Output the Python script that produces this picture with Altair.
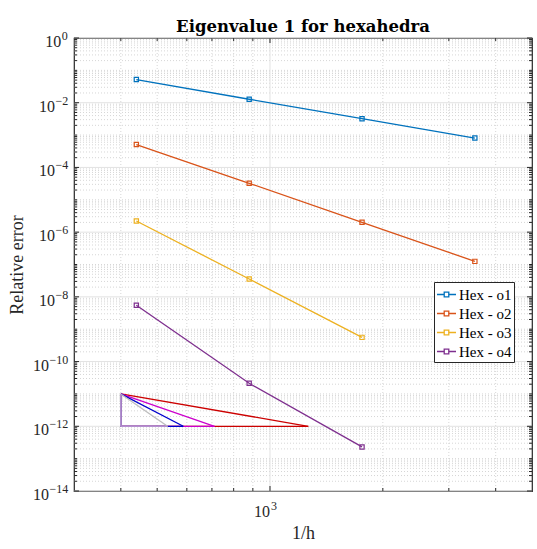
import altair as alt
import pandas as pd

# ---------------- data ----------------
series_names = ["Hex - o1", "Hex - o2", "Hex - o3", "Hex - o4"]
series_colors = ["#0072BD", "#D95319", "#EDB120", "#7E2F8E"]

inv_h_o1 = [440, 880, 1760, 3520]
err_o1 = [5.2e-2, 1.28e-2, 3.2e-3, 8.1e-4]
inv_h_o2 = [440, 880, 1760, 3520]
err_o2 = [5.1e-4, 3.24e-5, 2.02e-6, 1.25e-7]
inv_h_o3 = [440, 880, 1760]
err_o3 = [2.21e-6, 3.57e-8, 5.6e-10]
inv_h_o4 = [440, 880, 1760]
err_o4 = [5.5e-9, 2.13e-11, 2.3e-13]

# slope triangles (orders 2, 4, 6, 8)
tri_orders = ["2", "4", "6", "8"]
tri_x_left = 400
tri_x_right = [1265, 711, 587, 533]
tri_y_top = 1e-11
tri_y_bottom = 1e-12
tri_colors = ["#cc0000", "#cc00cc", "#0000cc", "#bdbdbd"]
tri_leg_color = "#b48fd0"

# axes
x_domain = [300, 5000]
y_domain = [1e-14, 1]
x_major = [1000]
x_minor = [400, 500, 600, 700, 800, 900, 2000, 3000, 4000]
x_label_exp = ["3"]
y_major_exp = [0, -2, -4, -6, -8, -10, -12, -14]
y_label_exp = ["0", "\u22122", "\u22124", "\u22126", "\u22128", "\u221210", "\u221212", "\u221214"]
y_odd_exp = [-1, -3, -5, -7, -9, -11, -13]
y_mantissas = [2, 3, 4, 5, 6, 7, 8, 9]

W, H = 458, 453
AXC = "#262626"
SERIF = "Liberation Serif"

y_major = [10.0 ** e for e in y_major_exp]
y_minor = [10.0 ** e for e in y_odd_exp] + [
    m * 10.0 ** k for k in range(-14, 0) for m in y_mantissas
]

xs = alt.Scale(type="log", domain=x_domain, nice=False)
ys = alt.Scale(type="log", domain=y_domain, nice=False)

# ---------------- grid ----------------
def vgrid(vals, color, dash):
    return alt.Chart(pd.DataFrame({"v": vals})).mark_rule(
        color=color, strokeWidth=1, strokeDash=dash
    ).encode(x=alt.X("v:Q", scale=xs), y=alt.value(0), y2=alt.value(H))

def hgrid(vals, color, dash):
    return alt.Chart(pd.DataFrame({"v": vals})).mark_rule(
        color=color, strokeWidth=1, strokeDash=dash
    ).encode(y=alt.Y("v:Q", scale=ys), x=alt.value(0), x2=alt.value(W))

grid_layers = [
    vgrid(x_minor, "#d6d6d6", [1, 2]),
    hgrid(y_minor, "#d6d6d6", [1, 2]),
    vgrid(x_major, "#e2e2e2", [1, 0]),
    hgrid(y_major, "#e2e2e2", [1, 0]),
]

# ---------------- ticks (inward, all four sides) ----------------
def xticks(vals, length):
    base = alt.Chart(pd.DataFrame({"v": vals})).mark_rule(color=AXC, strokeWidth=1)
    enc_x = alt.X("v:Q", scale=xs)
    return [
        base.encode(x=enc_x, y=alt.value(H), y2=alt.value(H - length)),
        base.encode(x=enc_x, y=alt.value(0), y2=alt.value(length)),
    ]

def yticks(vals, length):
    base = alt.Chart(pd.DataFrame({"v": vals})).mark_rule(color=AXC, strokeWidth=1)
    enc_y = alt.Y("v:Q", scale=ys)
    return [
        base.encode(y=enc_y, x=alt.value(0), x2=alt.value(length)),
        base.encode(y=enc_y, x=alt.value(W), x2=alt.value(W - length)),
    ]

tick_layers = (
    xticks(x_minor, 3)
    + xticks(x_major, 5)
    + yticks(y_minor, 3)
    + yticks(y_major, 5)
)

# ---------------- slope triangles ----------------
tri_layers = []
for xr, col in zip(tri_x_right, tri_colors):
    seg = pd.DataFrame({
        "x": [tri_x_left, tri_x_left, tri_x_left],
        "y": [tri_y_top, tri_y_bottom, tri_y_bottom],
        "x2": [xr, xr, tri_x_left],
        "y2": [tri_y_bottom, tri_y_bottom, tri_y_top],
    })
    tri_layers.append(
        alt.Chart(seg).mark_rule(color=col, strokeWidth=1.3).encode(
            x=alt.X("x:Q", scale=xs), x2="x2:Q",
            y=alt.Y("y:Q", scale=ys), y2="y2:Q",
        )
    )
leg = pd.DataFrame({
    "x": [tri_x_left, tri_x_left],
    "y": [tri_y_bottom, tri_y_bottom],
    "x2": [tri_x_right[-1], tri_x_left],
    "y2": [tri_y_bottom, tri_y_top],
})
tri_layers.append(
    alt.Chart(leg).mark_rule(color=tri_leg_color, strokeWidth=1.3).encode(
        x=alt.X("x:Q", scale=xs), x2="x2:Q",
        y=alt.Y("y:Q", scale=ys), y2="y2:Q",
    )
)

# ---------------- series ----------------
frames = []
for name, xv, ev in zip(
    series_names,
    [inv_h_o1, inv_h_o2, inv_h_o3, inv_h_o4],
    [err_o1, err_o2, err_o3, err_o4],
):
    frames.append(pd.DataFrame({"series": name, "inv_h": xv, "err": ev}))
series_df = pd.concat(frames, ignore_index=True)

legend_symbol = "M-1,0L-0.24,0M0.24,0L1,0M-0.24,-0.24L0.24,-0.24L0.24,0.24L-0.24,0.24Z"

lines = alt.Chart(series_df).mark_line(
    strokeWidth=1.3,
    point=alt.OverlayMarkDef(shape="square", filled=False, size=18, strokeWidth=1.2),
).encode(
    x=alt.X("inv_h:Q", scale=xs, title="1/h"),
    y=alt.Y("err:Q", scale=ys, title="Relative error"),
    color=alt.Color(
        "series:N",
        scale=alt.Scale(domain=series_names, range=series_colors),
        legend=alt.Legend(
            title=None, orient="none", legendX=360, legendY=244,
            strokeColor=AXC, fillColor="white", padding=2, rowPadding=0,
            symbolType=legend_symbol, symbolSize=361, symbolStrokeWidth=1.3,
            symbolFillColor="white",
            labelFont=SERIF, labelFontSize=15, labelColor="black", labelOffset=2,
            cornerRadius=0,
        ),
    ),
    order="inv_h:Q",
)

# ---------------- tick labels (10 with superscript exponent) ----------------
ylab_df = pd.DataFrame({"val": y_major, "base": "10", "exp": y_label_exp})
ylab_base = alt.Chart(ylab_df).transform_calculate(
    px="-6.5 - length(datum.exp) * 6.2"
).mark_text(
    align="right", baseline="alphabetic", dy=9, font=SERIF, fontSize=16, color=AXC
).encode(x=alt.X("px:Q", scale=None), y=alt.Y("val:Q", scale=ys), text="base:N")
ylab_exp = alt.Chart(ylab_df).transform_calculate(
    px="-6 - length(datum.exp) * 6.2"
).mark_text(
    align="left", baseline="alphabetic", dy=2, font=SERIF, fontSize=12, color=AXC
).encode(x=alt.X("px:Q", scale=None), y=alt.Y("val:Q", scale=ys), text="exp:N")

xlab_df = pd.DataFrame({"val": x_major, "base": "10", "exp": x_label_exp})
xlab_base = alt.Chart(xlab_df).mark_text(
    align="right", baseline="alphabetic", dy=26, font=SERIF, fontSize=16, color=AXC
).encode(x=alt.X("val:Q", scale=xs), y=alt.value(H), text="base:N")
xlab_exp = alt.Chart(xlab_df).mark_text(
    align="left", baseline="alphabetic", dx=1, dy=19, font=SERIF, fontSize=12, color=AXC
).encode(x=alt.X("val:Q", scale=xs), y=alt.value(H), text="exp:N")

chart = alt.layer(
    *grid_layers, *tri_layers, lines, *tick_layers,
    ylab_base, ylab_exp, xlab_base, xlab_exp,
).properties(
    width=W, height=H,
    title=alt.TitleParams(
        "Eigenvalue 1 for hexahedra", font="DejaVu Serif", fontSize=16.5,
        fontWeight="bold", color="black", anchor="middle", frame="group",
        baseline="alphabetic", offset=-18,
    ),
    autosize=alt.AutoSizeParams(type="none"),
    padding={"left": 74, "top": 38, "right": 5, "bottom": 58},
    background="white",
).configure_view(
    stroke=AXC, strokeWidth=1.2
).configure_axis(
    labels=False, ticks=False, domain=False, grid=False,
    titleFont=SERIF, titleFontSize=18, titleFontWeight="normal", titleColor=AXC,
).configure_axisX(
    titlePadding=33
).configure_axisY(
    titlePadding=48
)

chart.save("out.html", embed_options={"renderer": "svg", "actions": False})
